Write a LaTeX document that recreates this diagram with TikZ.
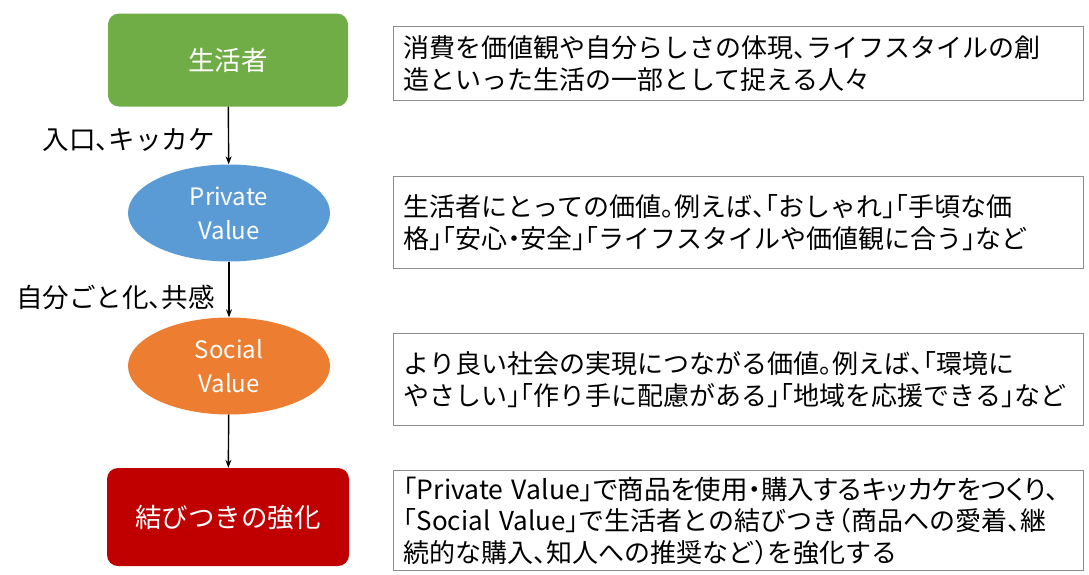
\documentclass[tikz,border=0pt]{standalone}
\usepackage{fontspec}
\setmainfont{Noto Sans CJK JP}[RawFeature=+halt]
\newfontfamily\propfont{Noto Sans CJK JP}[RawFeature=+palt]
\usetikzlibrary{shapes.geometric,arrows.meta}
\definecolor{cgreen}{HTML}{70AD47}
\definecolor{cblue}{HTML}{5B9BD5}
\definecolor{corange}{HTML}{ED7D31}
\definecolor{cred}{HTML}{C00000}
\definecolor{cgray}{HTML}{8C8C8C}
\tikzset{
  flowbox/.style={rectangle, rounded corners=11pt, text=white, inner sep=0pt, font=\fontsize{26.5}{30}\selectfont},
  valell/.style={ellipse, text=white, inner sep=0pt, align=center, minimum width=202pt, minimum height=97pt, font=\fontsize{24}{34}\selectfont},
  descbox/.style={draw=cgray, line width=1.4pt, anchor=north west, inner xsep=10pt, inner ysep=0pt, text width=670pt, minimum width=690pt, align=left, font=\fontsize{26}{31.5}\selectfont},
  lbl/.style={anchor=east, inner sep=0pt, font=\fontsize{26.5}{30}\selectfont},
  conn/.style={line width=1.4pt, -{Stealth[length=8pt,width=6pt]}}
}
\begin{document}
\begin{tikzpicture}[x=1pt,y=-1pt]
\useasboundingbox (0,0) rectangle (1089,574);
\node[flowbox, fill=cgreen, minimum width=240pt, minimum height=93pt] (a) at (228,60) {生活者};
\node[valell, fill=cblue] (b) at (229,213) {Private\\Value};
\node[valell, fill=corange] (c) at (229,366) {Social\\Value};
\node[flowbox, fill=cred, minimum width=242pt, minimum height=98pt] (d) at (228,517) {結びつきの強化};
\draw[conn] (a) -- (b);
\draw[conn] (b) -- (c);
\draw[conn] (c) -- (d);
\node[lbl] (l1) at (215,140) {入口、キッカケ};
\node[lbl] (l2) at (215,297) {自分ごと化、共感};
\node[descbox, minimum height=74pt] (t1) at (393,26) {消費を価値観や自分らしさの体現、ライフスタイルの創\\造といった生活の一部として捉える人々};
\node[descbox, minimum height=92pt] (t2) at (393,176) {生活者にとっての価値。例えば、「おしゃれ」「手頃な価\\格」「安心・安全」「ライフスタイルや価値観に合う」など};
\node[descbox, minimum height=92pt] (t3) at (393,333) {より良い社会の実現につながる価値。例えば、「環境に\\やさしい」「作り手に配慮がある」「地域を応援できる」など};
\node[descbox, minimum height=100pt] (t4) at (393,470) {{\propfont\fontsize{26.5}{31.5}\selectfont 「Private Value」で商品を使用・購入するキッカケをつくり、}\\「Social Value」で生活者との結びつき（商品への愛着、継\\続的な購入、知人への推奨など）を強化する};
\end{tikzpicture}
\end{document}
